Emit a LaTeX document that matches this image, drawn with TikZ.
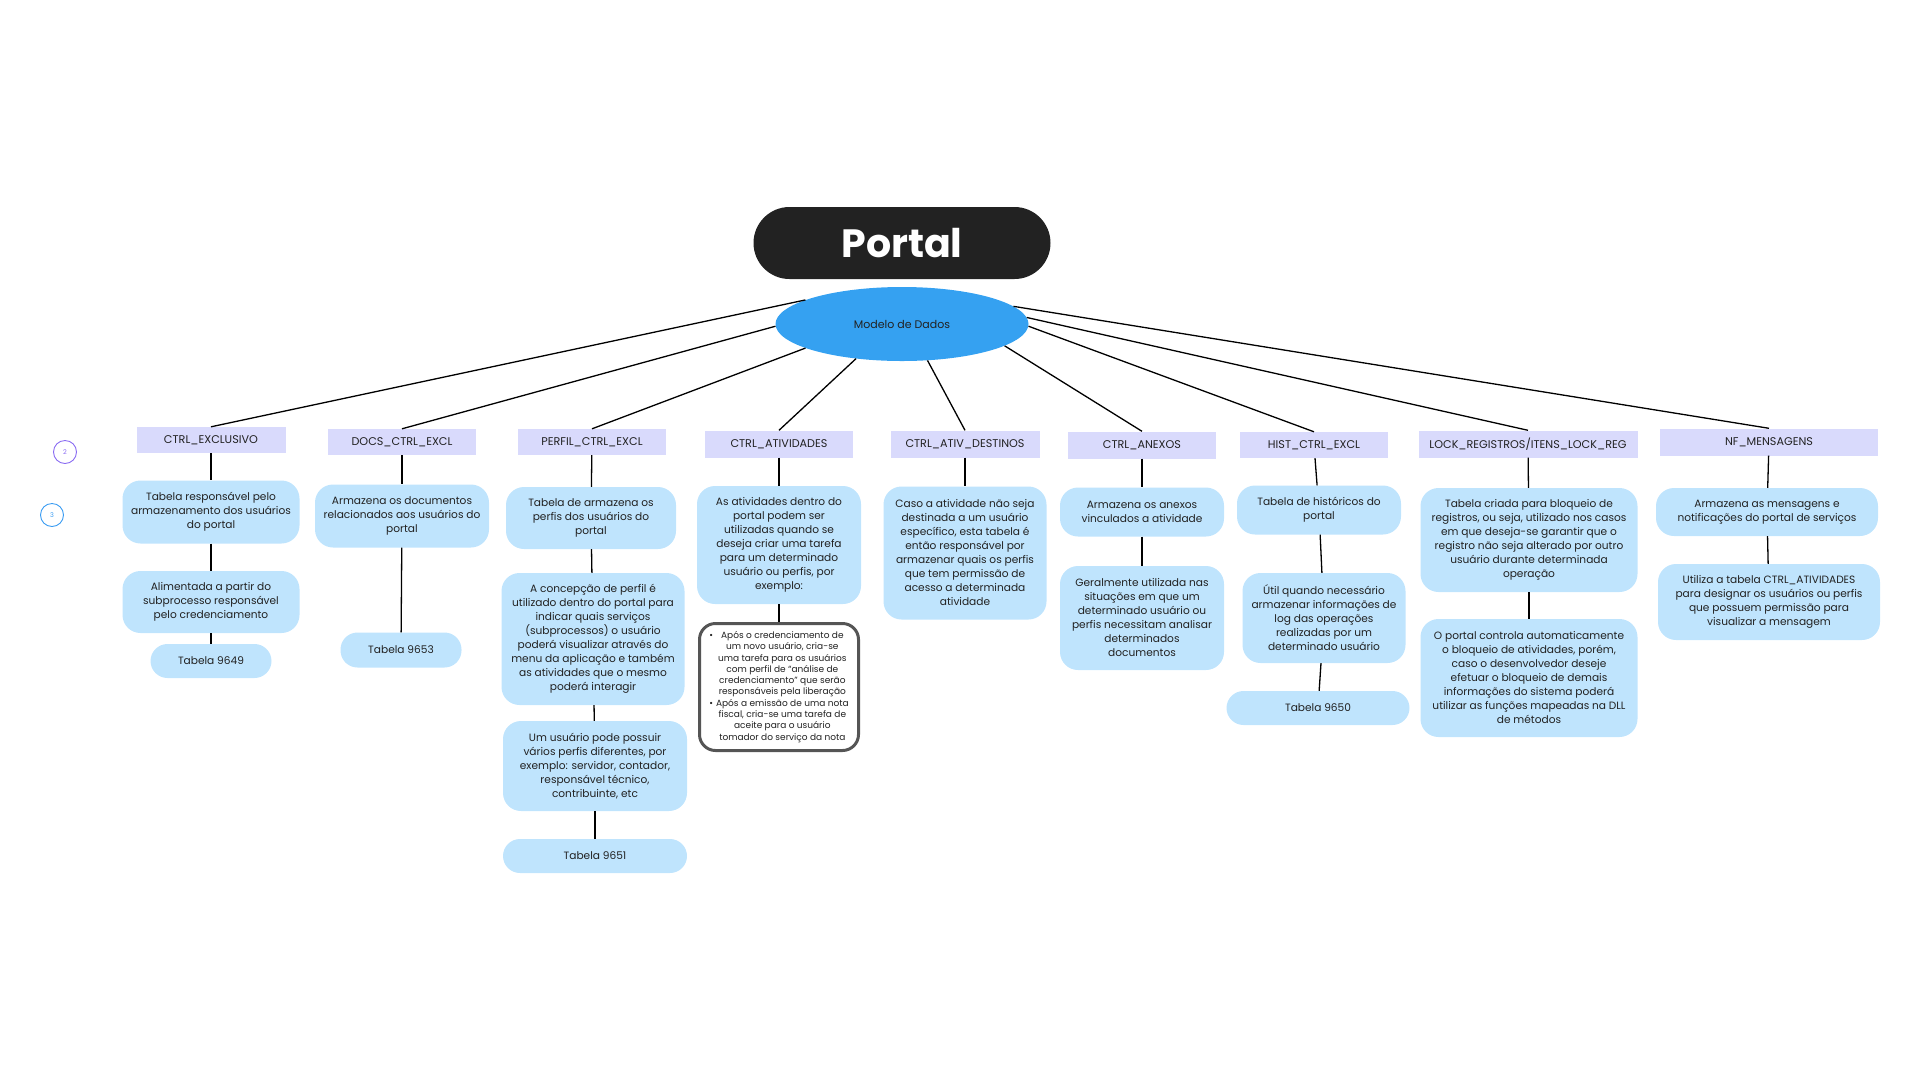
\documentclass[tikz,border=0pt]{standalone}
\usepackage{fontspec}
\setmainfont{Poppins}
\usetikzlibrary{shapes.geometric}
\definecolor{escuro}{HTML}{222222}
\definecolor{azulforte}{HTML}{35A1F1}
\definecolor{azulclaro}{HTML}{BFE4FD}
\definecolor{lilas}{HTML}{D9DAFC}
\definecolor{cinza}{HTML}{555555}
\definecolor{roxo}{HTML}{8A6CF2}
\definecolor{azulnum}{HTML}{3A9CF2}
\tikzset{
  cabec/.style={fill=lilas, minimum height=26pt, minimum width=148pt, inner sep=0pt, text=escuro, font=\fontsize{11.2}{13}\selectfont},
  caixa/.style={fill=azulclaro, rounded corners=18pt, align=center, inner sep=0pt, text=escuro, font=\fontsize{10.6}{14}\selectfont},
  pilula/.style={caixa, rounded corners=17pt, minimum height=34pt},
  numero/.style={circle, draw=#1, line width=0.9pt, minimum size=23pt, inner sep=0pt, text=#1, font=\fontsize{6.5}{7}\selectfont},
  liga/.style={line width=1.3pt, draw=black},
}

\begin{document}
\begin{tikzpicture}[x=1pt, y=-1pt]
		%%%%% START %%%%%
		\useasboundingbox (0,0) rectangle (1920,1080);
		
		\node[numero=roxo] (n2) at (65,452) {2};
		\node[numero=azulnum] (n3) at (52,515) {3};
		
		\node[fill=escuro, rounded corners=36pt, minimum width=297pt, minimum height=72pt, inner sep=0pt, text=white, font=\bfseries\fontsize{39.5}{41}\selectfont] (portal) at (902,243) {Portal};
		\node[ellipse, fill=azulforte, minimum width=253pt, minimum height=74pt, inner sep=0pt, text=escuro, font=\fontsize{11}{13}\selectfont] (modelo) at (902,324) {Modelo de Dados};
		
		\node[cabec, minimum width=149pt] (h1) at (211,440) {CTRL\_EXCLUSIVO};
		\node[cabec] (h2) at (402,442) {DOCS\_CTRL\_EXCL};
		\node[cabec] (h3) at (592,442) {PERFIL\_CTRL\_EXCL};
		\node[cabec, minimum height=27pt] (h4) at (779,444) {CTRL\_ATIVIDADES};
		\node[cabec, minimum width=149pt, minimum height=27pt] (h5) at (965,444) {CTRL\_ATIV\_DESTINOS};
		\node[cabec, minimum height=27pt] (h6) at (1142,445) {CTRL\_ANEXOS};
		\node[cabec] (h7) at (1314,445) {HIST\_CTRL\_EXCL};
		\node[cabec, minimum width=219pt, minimum height=27pt] (h8) at (1528,444) {LOCK\_REGISTROS/ITENS\_LOCK\_REG};
		\node[cabec, minimum width=218pt, minimum height=27pt] (h9) at (1769,442) {NF\_MENSAGENS};
		
		% coluna 1
		\node[caixa, minimum width=177pt, minimum height=63pt] (a1) at (211,512) {Tabela responsável pelo\\armazenamento dos usuários\\do portal};
		\node[caixa, minimum width=177pt, minimum height=62pt] (a2) at (211,602) {Alimentada a partir do\\subprocesso responsável\\pelo credenciamento};
		\node[pilula, minimum width=121pt] (a3) at (211,661) {Tabela 9649};
		
		% coluna 2
		\node[caixa, minimum width=174pt, minimum height=63pt] (b1) at (402,516) {Armazena os documentos\\relacionados aos usuários do\\portal};
		\node[pilula, minimum width=121pt, minimum height=35pt] (b2) at (401,650) {Tabela 9653};
		
		% coluna 3
		\node[caixa, minimum width=170pt, minimum height=62pt] (c1) at (591,518) {Tabela de armazena os\\perfis dos usuários do\\portal};
		\node[caixa, minimum width=183pt, minimum height=132pt] (c2) at (593,639) {A concepção de perfil é\\utilizado dentro do portal para\\indicar quais serviços\\(subprocessos) o usuário\\poderá visualizar através do\\menu da aplicação e também\\as atividades que o mesmo\\poderá interagir};
		\node[caixa, minimum width=184pt, minimum height=90pt] (c3) at (595,766) {Um usuário pode possuir\\vários perfis diferentes, por\\exemplo: servidor, contador,\\responsável técnico,\\contribuinte, etc};
		\node[pilula, minimum width=184pt] (c4) at (595,856) {Tabela 9651};
		
		% coluna 4
		\node[caixa, minimum width=164pt, minimum height=118pt] (d1) at (779,545) {As atividades dentro do\\portal podem ser\\utilizadas quando se\\deseja criar uma tarefa\\para um determinado\\usuário ou perfis, por\\exemplo:};
		\node[fill=white, draw=cinza, line width=3pt, rounded corners=16pt, minimum width=159pt, minimum height=127pt, inner sep=0pt, text=escuro, font=\fontsize{9}{11.3}\selectfont] (d2) at (779,687) {%
			\begin{tabular}{@{}c@{\hspace{3pt}}c@{}}
			• & Após o credenciamento de\\
			  & um novo usuário, cria-se\\
			  & uma tarefa para os usuários\\
			  & com perfil de “análise de\\
			  & credenciamento” que serão\\
			  & responsáveis pela liberação\\
			• & Após a emissão de uma nota\\
			  & fiscal, cria-se uma tarefa de\\
			  & aceite para o usuário\\
			  & tomador do serviço da nota
			\end{tabular}};
		
		% coluna 5
		\node[caixa, minimum width=163pt, minimum height=133pt] (e1) at (965,553) {Caso a atividade não seja\\destinada a um usuário\\específico, esta tabela é\\então responsável por\\armazenar quais os perfis\\que tem permissão de\\acesso a determinada\\atividade};
		
		% coluna 6
		\node[caixa, minimum width=164pt, minimum height=49pt] (f1) at (1142,512) {Armazena os anexos\\vinculados a atividade};
		\node[caixa, minimum width=164pt, minimum height=104pt] (f2) at (1142,618) {Geralmente utilizada nas\\situações em que um\\determinado usuário ou\\perfis necessitam analisar\\determinados\\documentos};
		
		% coluna 7
		\node[caixa, minimum width=164pt, minimum height=49pt] (g1) at (1319,510) {Tabela de históricos do\\portal};
		\node[caixa, minimum width=163pt, minimum height=90pt] (g2) at (1324,618) {Útil quando necessário\\armazenar informações de\\log das operações\\realizadas por um\\determinado usuário};
		\node[pilula, minimum width=183pt] (g3) at (1318,708) {Tabela 9650};
		
		% coluna 8
		\node[caixa, minimum width=217pt, minimum height=104pt] (k1) at (1529,540) {Tabela criada para bloqueio de\\registros, ou seja, utilizado nos casos\\em que deseja-se garantir que o\\registro não seja alterado por outro\\usuário durante determinada\\operação};
		\node[caixa, minimum width=217pt, minimum height=118pt] (k2) at (1529,678) {O portal controla automaticamente\\o bloqueio de atividades, porém,\\caso o desenvolvedor deseje\\efetuar o bloqueio de demais\\informações do sistema poderá\\utilizar as funções mapeadas na DLL\\de métodos};
		
		% coluna 9
		\node[caixa, minimum width=222pt, minimum height=48pt] (m1) at (1767,512) {Armazena as mensagens e\\notificações do portal de serviços};
		\node[caixa, minimum width=222pt, minimum height=76pt] (m2) at (1769,602) {Utiliza a tabela CTRL\_ATIVIDADES\\para designar os usuários ou perfis\\que possuem permissão para\\visualizar a mensagem};
		
		\foreach \ang/\alvo in {166/h1,181/h2,194/h3,217/h4,305/h5,348/h6,359/h7,3/h8,9/h9}
			\draw[liga] (modelo.\ang) -- (\alvo.north);
		
		\foreach \de/\para in {h1/a1,a1/a2,a2/a3,h2/b1,b1/b2,h3/c1,c1/c2,c2/c3,c3/c4,h4/d1,d1/d2,h5/e1,h6/f1,f1/f2,h7/g1,g1/g2,g2/g3,h8/k1,k1/k2,h9/m1,m1/m2}
			\draw[liga] (\de) -- (\para);
		%%%%% END %%%%%
	\end{tikzpicture}
\end{document}
